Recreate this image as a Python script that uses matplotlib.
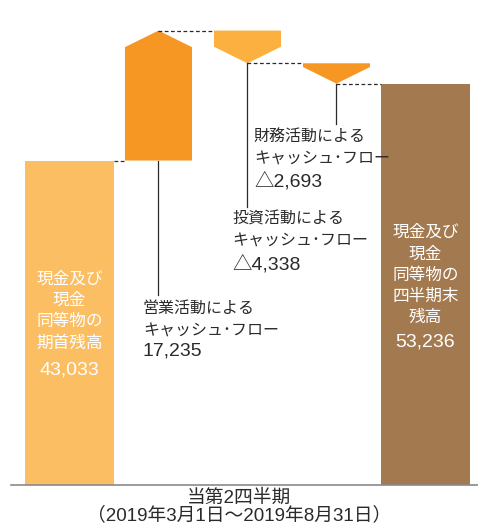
import matplotlib
matplotlib.use("Agg")
import matplotlib.pyplot as plt
from matplotlib.patches import Polygon, Rectangle

plt.rcParams['font.family'] = ['Noto Sans CJK JP', 'DejaVu Sans']

# ---- data ----
start_label = "現金及び\n現金\n同等物の\n期首残高"
end_label = "現金及び\n現金\n同等物の\n四半期末\n残高"
start_value = 43033
flow_labels = ["営業活動による\nキャッシュ･フロー", "投資活動による\nキャッシュ･フロー", "財務活動による\nキャッシュ･フロー"]
flow_values = [17235, -4338, -2693]
end_value = 53236
period_label = "当第2四半期\n（2019年3月1日～2019年8月31日）"

# ---- style / layout ----
c_start = "#FBBE63"
c_flows = ["#F69623", "#FBB040", "#F69623"]
c_end = "#A37A50"
text_c = "#2a2a2a"
head = 2200  # arrow head height in data units
wide_w = 1.0
narrow_w = 0.753
num_font = ['Liberation Sans', 'Noto Sans CJK JP']
lab_fs = 11.5
num_fs = 14

fig = plt.figure(figsize=(4.78, 5.28), dpi=100)
ax = fig.add_axes([11/478, 43/528, 467/478, 485/528])
ax.set_xlim(-0.657, 4.59)
ax.set_ylim(0, 64324)
ax.axis('off')
ax.axhline(0, color="#8a8a8a", lw=1.2, clip_on=False)

def fmt(v):
    return ("△" if v < 0 else "") + f"{abs(v):,}"

# start bar
ax.add_patch(Rectangle((0 - wide_w/2, 0), wide_w, start_value, color=c_start, lw=0))
ax.text(0, 28400, start_label, color="white", ha="center", va="top",
        fontsize=12, linespacing=1.33)
ax.text(0, 14721, f"{start_value:,}", color="white", ha="center", va="baseline",
        fontsize=num_fs, family=num_font)

# end bar
ax.add_patch(Rectangle((4 - wide_w/2, 0), wide_w, end_value, color=c_end, lw=0))
ax.text(4, 34600, end_label, color="white", ha="center", va="top",
        fontsize=12, linespacing=1.33)
ax.text(4, 18435, f"{end_value:,}", color="white", ha="center", va="baseline",
        fontsize=num_fs, family=num_font)

# flows
level = start_value
leader_bottom = [25200, 36900, 47900]
label_x = [0.826, 1.826, 2.073]
label_top = [24500, 36440, 47320]
num_base = [17109, 28647, 39523]
prev_x = 0 + wide_w/2
prev_y = start_value
for i, v in enumerate(flow_values):
    x = i + 1
    l, r = x - narrow_w/2, x + narrow_w/2
    new = level + v
    ax.plot([prev_x, l], [prev_y, prev_y], color=text_c, lw=0.9, ls=(0, (3, 2)))
    if v > 0:
        pts = [(l, level), (r, level), (r, new - head), (x, new), (l, new - head)]
        ax.plot([x, x], [level, leader_bottom[i]], color=text_c, lw=0.9)
    else:
        pts = [(l, level), (r, level), (r, new + head), (x, new), (l, new + head)]
        ax.plot([x, x], [new, leader_bottom[i]], color=text_c, lw=0.9)
    ax.add_patch(Polygon(pts, closed=True, color=c_flows[i], lw=0))
    ax.text(label_x[i], label_top[i], flow_labels[i], color=text_c,
            ha="left", va="top", fontsize=lab_fs, linespacing=1.4)
    ax.text(label_x[i], num_base[i], fmt(v), color=text_c,
            ha="left", va="baseline", fontsize=num_fs, family=num_font)
    prev_x, prev_y = x, new
    level = new

ax.plot([prev_x, 4 - wide_w/2], [prev_y, prev_y], color=text_c, lw=0.9, ls=(0, (3, 2)))

fig.text(0.5, 1 - 489/528, period_label, ha="center", va="top", fontsize=13.5,
         color=text_c, linespacing=0.98, family=num_font)

fig.savefig("out.png", dpi=100)
